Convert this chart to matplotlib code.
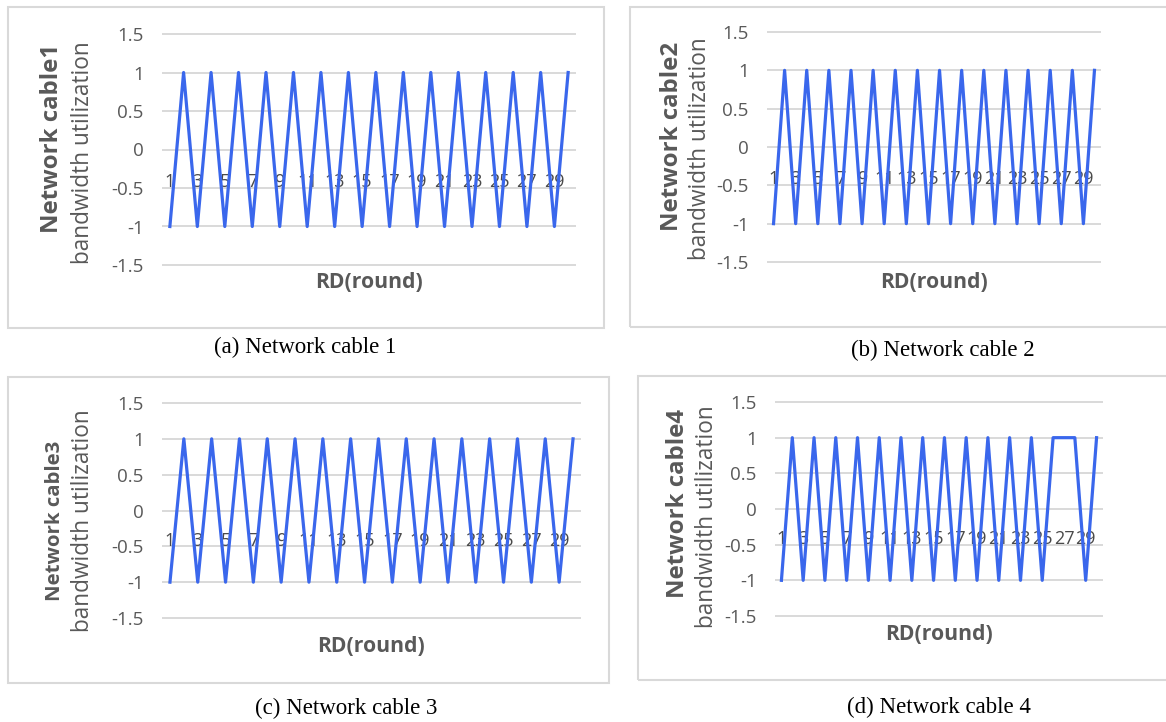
import matplotlib.pyplot as plt
from matplotlib.patches import Rectangle

plt.rcParams['font.family'] = ['Open Sans', 'DejaVu Sans']

rounds = list(range(1, 31))
cable1 = [-1, 1, -1, 1, -1, 1, -1, 1, -1, 1, -1, 1, -1, 1, -1,
          1, -1, 1, -1, 1, -1, 1, -1, 1, -1, 1, -1, 1, -1, 1]
cable2 = [-1, 1, -1, 1, -1, 1, -1, 1, -1, 1, -1, 1, -1, 1, -1,
          1, -1, 1, -1, 1, -1, 1, -1, 1, -1, 1, -1, 1, -1, 1]
cable3 = [-1, 1, -1, 1, -1, 1, -1, 1, -1, 1, -1, 1, -1, 1, -1,
          1, -1, 1, -1, 1, -1, 1, -1, 1, -1, 1, -1, 1, -1, 1]
cable4 = [-1, 1, -1, 1, -1, 1, -1, 1, -1, 1, -1, 1, -1, 1, -1,
          1, -1, 1, -1, 1, -1, 1, -1, 1, -1, 1, 1, 1, -1, 1]
y_ticks = [-1.5, -1, -0.5, 0, 0.5, 1, 1.5]
y_tick_labels = ['-1.5', '-1', '-0.5', '0', '0.5', '1', '1.5']
x_labels = rounds[::2]

W, H = 1166, 722
fig = plt.figure(figsize=(W / 100, H / 100), dpi=100)

GRID = '#d9d9d9'
TEXT = '#595959'
BLUE = '#3a67ec'


def frac_rect(x0, y0, x1, y1):
    return [x0 / W, 1 - y1 / H, (x1 - x0) / W, (y1 - y0) / H]


# box, plot area, y-title line centers, title1 size, caption center, RD center
panels = [
    dict(vals=cable1, name='Network cable1', cap='(a) Network cable 1',
         box=(8, 7, 604, 328), area=(163, 34, 575, 265),
         l1=(52, 138), l2=(83, 153), s1=17.3, capxy=(305, 347), rd=(369, 283)),
    dict(vals=cable2, name='Network cable2', cap='(b) Network cable 2',
         box=(630, 7, 1175, 327), area=(768, 32, 1100, 262),
         l1=(672, 136), l2=(700, 149), s1=17.3, capxy=(943, 350), rd=(934, 283)),
    dict(vals=cable3, name='Network cable3', cap='(c) Network cable 3',
         box=(8, 377, 609, 683), area=(163, 403, 580, 618),
         l1=(55, 521), l2=(83, 521), s1=14.7, capxy=(346, 708), rd=(371, 647)),
    dict(vals=cable4, name='Network cable4', cap='(d) Network cable 4',
         box=(638, 376, 1175, 680), area=(776, 402, 1102, 616),
         l1=(678, 503), l2=(707, 517), s1=17.3, capxy=(939, 707), rd=(939, 635)),
]

for p in panels:
    bx0, by0, bx1, by1 = p['box']
    fig.patches.append(Rectangle((bx0 / W, 1 - by1 / H), (bx1 - bx0) / W, (by1 - by0) / H,
                                 transform=fig.transFigure, fill=False,
                                 edgecolor=GRID, lw=1.5))

    ax = fig.add_axes(frac_rect(*p['area']))
    ax.plot(rounds, p['vals'], color=BLUE, lw=2.3, zorder=3, clip_on=False)
    ax.set_xlim(0.5, 30.5)
    ax.set_ylim(-1.5, 1.5)
    ax.set_yticks(y_ticks)
    ax.set_yticklabels(y_tick_labels)
    ax.set_xticks([])
    ax.tick_params(axis='y', length=0, pad=14, labelsize=13.5, labelcolor=TEXT)
    ax.grid(axis='y', color=GRID, lw=1.4)
    for gl in ax.get_ygridlines():
        gl.set_clip_on(False)
    for s in ax.spines.values():
        s.set_visible(False)
    ax.patch.set_alpha(0)

    # category labels sit just under the zero line
    for r in x_labels:
        ax.text(r, -0.42, str(r), ha='center', va='center', fontsize=13,
                color='#4a4a4a', zorder=2)

    fig.text(p['l1'][0] / W, 1 - p['l1'][1] / H, p['name'], rotation=90,
             ha='center', va='center', fontsize=p['s1'], fontweight='bold', color=TEXT)
    fig.text(p['l2'][0] / W, 1 - p['l2'][1] / H, 'bandwidth utilization', rotation=90,
             ha='center', va='center', fontsize=16.3, color=TEXT)
    fig.text(p['rd'][0] / W, 1 - p['rd'][1] / H, 'RD(round)', ha='center', va='center',
             fontsize=15.2, fontweight='bold', color=TEXT)
    fig.text(p['capxy'][0] / W, 1 - p['capxy'][1] / H, p['cap'], ha='center', va='center',
             fontsize=16.5, family='Liberation Serif', color='black')

fig.savefig('out.png', dpi=100)
